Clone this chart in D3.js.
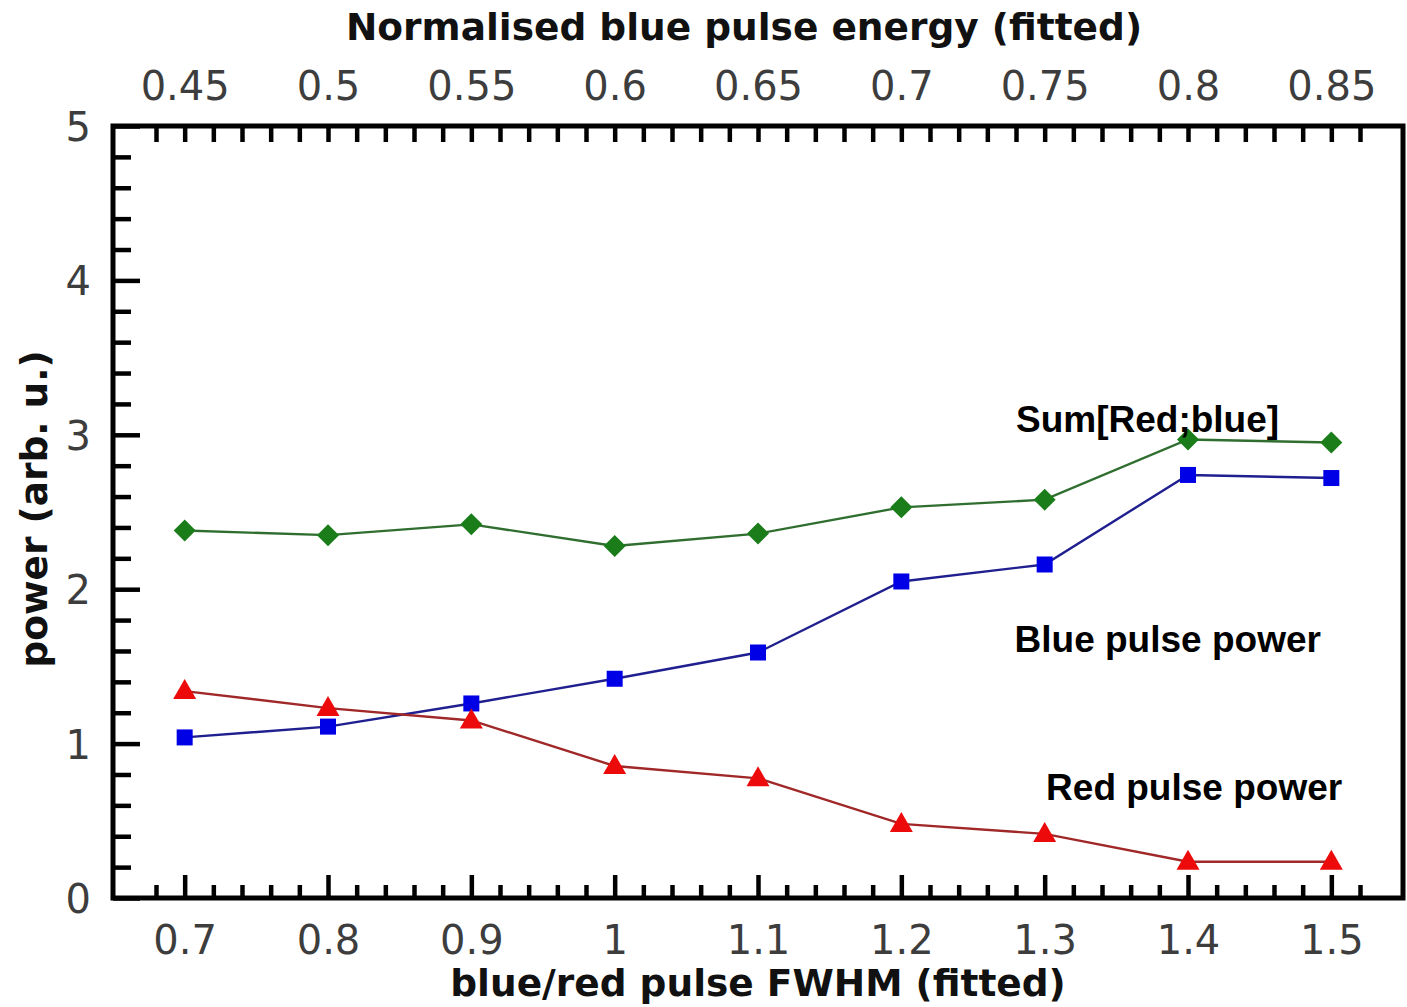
<!DOCTYPE html>
<html>
<head>
<meta charset="utf-8">
<script src="https://cdn.jsdelivr.net/npm/d3@7"></script>
<style>
  html, body { margin: 0; padding: 0; background: #fff; }
  svg { display: block; }
</style>
</head>
<body>
<svg id="chart" width="1407" height="1007"></svg>
<script>
// Pulse FWHM ratio (bottom axis) and measured powers
const fwhm = [0.7, 0.8, 0.9, 1.0, 1.1, 1.2, 1.3, 1.4, 1.5];
const sumPower  = [2.38, 2.35, 2.42, 2.28, 2.36, 2.53, 2.58, 2.97, 2.95];
const bluePower = [1.04, 1.11, 1.26, 1.42, 1.59, 2.05, 2.16, 2.74, 2.72];
const redPower  = [1.34, 1.23, 1.15, 0.855, 0.775, 0.48, 0.415, 0.235, 0.235];

const bottomTicks = [0.7, 0.8, 0.9, 1.0, 1.1, 1.2, 1.3, 1.4, 1.5];
const topTicks = [0.45, 0.5, 0.55, 0.6, 0.65, 0.7, 0.75, 0.8, 0.85];
const leftTicks = [0, 1, 2, 3, 4, 5];

const annotations = [
  { text: "Sum[Red;blue]", x: 1.28, y: 3.02 },
  { text: "Blue pulse power", x: 1.279, y: 1.593 },
  { text: "Red pulse power", x: 1.301, y: 0.635 }
];

const svg = d3.select("#chart");
const plotL = 113, plotT = 126, plotR = 1403, plotB = 898;

const x = d3.scaleLinear().domain([0.65, 1.55]).range([plotL, plotR]);
// Top axis: normalised energy, linear in the FWHM ratio
const xTop = d3.scaleLinear().domain([0.425, 0.875]).range([plotL, plotR]);
const y = d3.scaleLinear().domain([0, 5]).range([plotB, plotT]);

const tickFont = "'DejaVu Sans', sans-serif";
const tickColor = "#3d3d3d";

// Bottom axis: major ticks every 0.1, minor every 0.02 (pointing inward)
const bottomMinor = d3.range(34, 77).map(i => +(i * 0.02).toFixed(2))
  .filter(v => Math.abs(v * 10 - Math.round(v * 10)) > 1e-6);
const gB = svg.append("g").attr("transform", `translate(0,${plotB})`);
gB.call(d3.axisBottom(x).tickValues(bottomTicks).tickSize(-23).tickPadding(28)
  .tickFormat(d3.format("~g")));
gB.append("g").call(d3.axisBottom(x).tickValues(bottomMinor).tickSize(-13).tickFormat(""));

// Top axis: ticks every 0.01, all of one length
const topMinor = d3.range(44, 87).map(i => +(i * 0.01).toFixed(2));
const gT = svg.append("g").attr("transform", `translate(0,${plotT})`);
gT.call(d3.axisTop(xTop).tickValues(topTicks).tickSize(0).tickPadding(26)
  .tickFormat(d3.format("~g")));
gT.append("g").call(d3.axisTop(xTop).tickValues(topMinor).tickSize(-16).tickFormat(""));

// Left axis: major every 1, minor every 0.2
const leftMinor = d3.range(1, 25).map(i => +(i * 0.2).toFixed(1)).filter(v => v % 1 !== 0);
const gL = svg.append("g").attr("transform", `translate(${plotL},0)`);
gL.call(d3.axisLeft(y).tickValues(leftTicks).tickSize(-27).tickPadding(22)
  .tickFormat(d3.format("~g")));
gL.append("g").call(d3.axisLeft(y).tickValues(leftMinor).tickSize(-18).tickFormat(""));

svg.selectAll(".domain").remove();
svg.selectAll(".tick line").attr("stroke", "#000").attr("stroke-width", 4.5);
svg.selectAll(".tick text")
  .attr("font-family", tickFont).attr("font-size", 40).attr("fill", tickColor);
gL.selectAll(".tick text").attr("dy", "0.36em");

// Frame
svg.append("rect")
  .attr("x", plotL).attr("y", plotT)
  .attr("width", plotR - plotL).attr("height", plotB - plotT)
  .attr("fill", "none").attr("stroke", "#000").attr("stroke-width", 5);

// Axis titles
const titleFont = "'DejaVu Sans', sans-serif";
const titleSize = 37.5;
svg.append("text").attr("x", 744).attr("y", 40).attr("text-anchor", "middle")
  .attr("font-family", titleFont).attr("font-weight", "bold").attr("font-size", titleSize)
  .attr("fill", "#111").text("Normalised blue pulse energy (fitted)");
svg.append("text").attr("x", 758).attr("y", 996).attr("text-anchor", "middle")
  .attr("font-family", titleFont).attr("font-weight", "bold").attr("font-size", titleSize)
  .attr("fill", "#111").text("blue/red pulse FWHM (fitted)");
svg.append("text").attr("transform", "translate(47,509) rotate(-90)")
  .attr("text-anchor", "middle")
  .attr("font-family", titleFont).attr("font-weight", "bold").attr("font-size", titleSize)
  .attr("fill", "#111").text("power (arb. u.)");

// Series
const series = [
  { values: sumPower,  line: "#2f6e2f", fill: "#1a7d1a", shape: "diamond" },
  { values: bluePower, line: "#1f1f8f", fill: "#0000e6", shape: "square" },
  { values: redPower,  line: "#a02828", fill: "#ec0a0a", shape: "triangle" }
];

const line = d3.line().x(d => x(d[0])).y(d => y(d[1]));

series.forEach(s => {
  const pts = fwhm.map((f, i) => [f, s.values[i]]);
  svg.append("path").datum(pts)
    .attr("d", line).attr("fill", "none")
    .attr("stroke", s.line).attr("stroke-width", 2.4);

  const g = svg.append("g");
  pts.forEach(p => {
    const cx = x(p[0]), cy = y(p[1]);
    if (s.shape === "square") {
      g.append("rect").attr("x", cx - 8).attr("y", cy - 8)
        .attr("width", 16).attr("height", 16).attr("fill", s.fill);
    } else if (s.shape === "diamond") {
      g.append("path").attr("d", `M${cx},${cy - 11}L${cx + 11},${cy}L${cx},${cy + 11}L${cx - 11},${cy}Z`)
        .attr("fill", s.fill);
    } else {
      g.append("path").attr("d", `M${cx},${cy - 12}L${cx + 11.5},${cy + 8}L${cx - 11.5},${cy + 8}Z`)
        .attr("fill", s.fill);
    }
  });
});

// Series labels
svg.append("g").selectAll("text").data(annotations).join("text")
  .attr("x", d => x(d.x)).attr("y", d => y(d.y))
  .attr("font-family", "'Liberation Sans', Arial, sans-serif")
  .attr("font-weight", "bold").attr("font-size", 37).attr("fill", "#000")
  .text(d => d.text);
</script>
</body>
</html>
